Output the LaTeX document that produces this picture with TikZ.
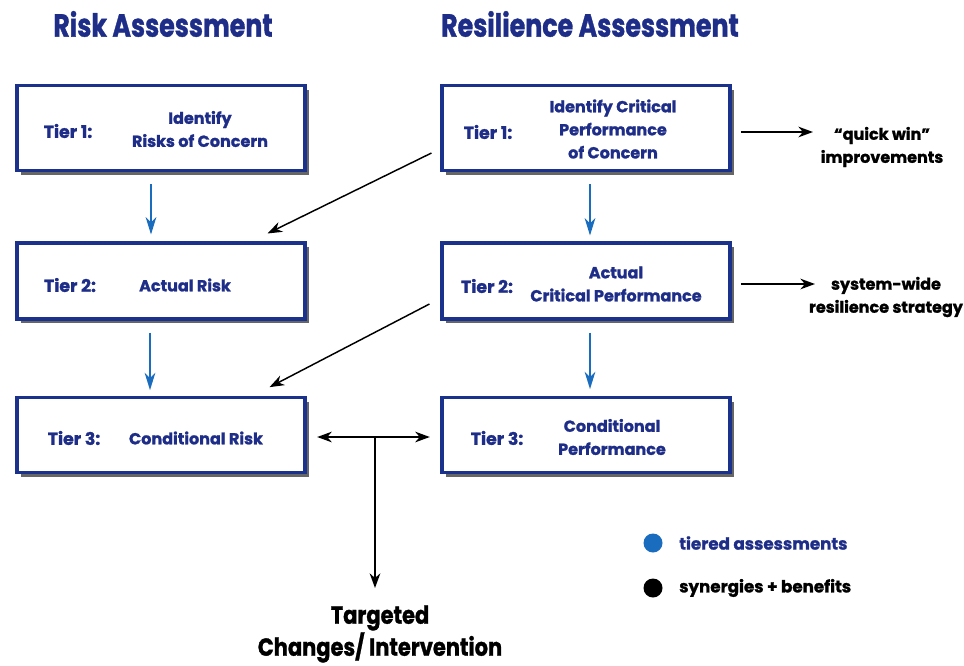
\documentclass[tikz,border=0pt]{standalone}
\usepackage{fontspec}
\setmainfont{Poppins}[BoldFeatures={FakeBold=1.3}]
\usetikzlibrary{arrows.meta,shadows}
\definecolor{navy}{RGB}{26,50,140}
\definecolor{txtblue}{RGB}{30,46,136}
\definecolor{arrblue}{RGB}{26,108,190}
\tikzset{
  box/.style={draw=navy, line width=2.3pt, fill=white, minimum width=216pt, minimum height=#1, inner sep=0pt,
    drop shadow={shadow xshift=3.2pt, shadow yshift=-3.2pt, fill=black!75, opacity=0.8}},
  btxt/.style={text=txtblue, font=\bfseries\fontsize{12}{17.3}\selectfont, align=center, inner sep=0pt},
  tier/.style={btxt, font=\bfseries\fontsize{13}{17.3}\selectfont},
  ktxt/.style={text=black, font=\bfseries\fontsize{12}{17.3}\selectfont, align=center, inner sep=0pt},
  ttl/.style={text=txtblue, font=\bfseries\fontsize{24}{28}\selectfont, inner sep=0pt},
  barrow/.style={draw=arrblue, line width=1.3pt, -{Stealth[length=13pt,width=8pt,inset=4pt]}},
  karrow/.style={draw=black, line width=1.1pt, -{Stealth[length=11pt,width=8pt,inset=3.5pt]}},
  kboth/.style={draw=black, line width=1.1pt, {Stealth[length=11pt,width=8pt,inset=3.5pt]}-{Stealth[length=11pt,width=8pt,inset=3.5pt]}},
}
\begin{document}
\begin{tikzpicture}[x=0.75pt,y=-0.75pt]
\useasboundingbox (0,0) rectangle (964,665);
% titles
\node[ttl] (t1) at (163,24) {\scalebox{0.79}[1]{Risk Assessment}};
\node[ttl] (t2) at (590,24) {\scalebox{0.79}[1]{Resilience Assessment}};
% boxes
\node[box=64pt] (l1) at (161,128) {};
\node[box=57pt] (l2) at (161,281) {};
\node[box=56pt] (l3) at (161,435) {};
\node[box=64pt] (r1) at (586,128) {};
\node[box=57pt] (r2) at (586,281) {};
\node[box=56pt] (r3) at (586,435) {};
% box texts
\node[tier] (l1a) at (68,131) {Tier 1:};
\node[btxt] (l1b) at (200,129) {Identify\\Risks of Concern};
\node[tier] (l2a) at (70,285) {Tier 2:};
\node[btxt] (l2b) at (185,285) {Actual Risk};
\node[tier] (l3a) at (74,438) {Tier 3:};
\node[btxt] (l3b) at (196,438) {Conditional Risk};
\node[tier] (r1a) at (488,132) {Tier 1:};
\node[btxt] (r1b) at (613,129) {Identify Critical\\Performance\\of Concern};
\node[tier] (r2a) at (487,286) {Tier 2:};
\node[btxt] (r2b) at (616,284) {Actual\\Critical Performance};
\node[tier] (r3a) at (497,438) {Tier 3:};
\node[btxt] (r3b) at (612,437) {Conditional\\Performance};
% blue arrows
\draw[barrow] ([shift={(-10,12)}]l1.south) -- ([shift={(-10,-7)}]l2.north);
\draw[barrow] ([shift={(-11,12)}]l2.south) -- ([shift={(-11,-6)}]l3.north);
\draw[barrow] ([shift={(4,12)}]r1.south) -- ([shift={(4,-6)}]r2.north);
\draw[barrow] ([shift={(4,12)}]r2.south) -- ([shift={(4,-7)}]r3.north);
% black diagonal arrows
\draw[karrow] ([shift={(-9,25)}]r1.west) -- ([shift={(-39,-8)}]l2.north east);
\draw[karrow] ([shift={(-11,23)}]r2.west) -- ([shift={(-37,-9)}]l3.north east);
% right outputs
\node[ktxt] (qw) at (882,147) {``quick win''\\improvements};
\node[ktxt] (sw) at (886,297) {system-wide\\resilience strategy};
\draw[karrow] ([xshift=7]r1.east |- 0,132) -- (813,132);
\draw[karrow] ([xshift=7]r2.east |- 0,284) -- (815,284);
% bidirectional + down
\draw[kboth] ([xshift=8]l3.east |- 0,437) -- ([xshift=-8]r3.west |- 0,437);
\coordinate (j) at (375,437);
\node[ktxt, font=\bfseries\fontsize{18.5}{24}\selectfont] (tc) at (380,634) {\scalebox{0.85}[1]{Targeted}\\\scalebox{0.85}[1]{Changes/ Intervention}};
\draw[karrow] (j) -- (375,588);
% legend
\fill[arrblue] (653,543) circle (9.5);
\node[btxt, font=\bfseries\fontsize{12.5}{17}\selectfont, anchor=west] (lg1) at (679,543) {tiered assessments};
\fill[black] (653,588) circle (9.5);
\node[ktxt, font=\bfseries\fontsize{12.5}{17}\selectfont, anchor=west] (lg2) at (679,588) {synergies + benefits};
\end{tikzpicture}
\end{document}
